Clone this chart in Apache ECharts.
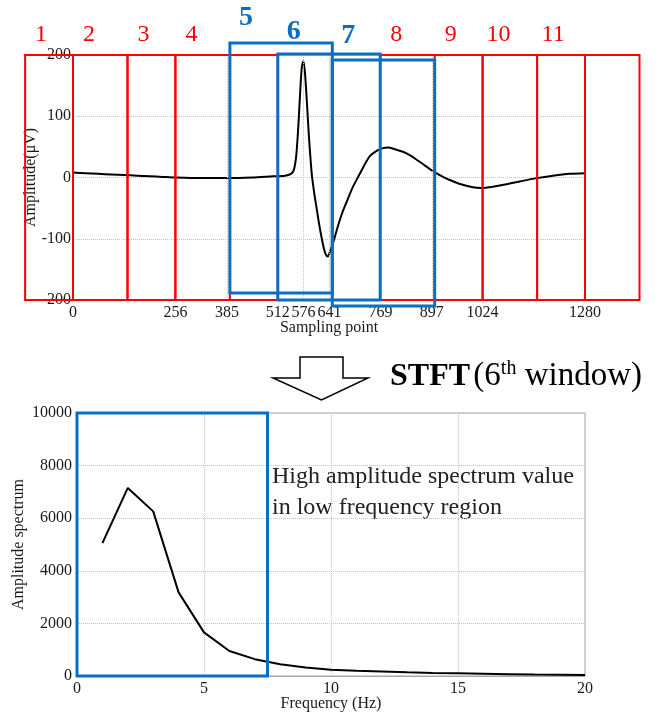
<!DOCTYPE html>
<html>
<head>
<meta charset="utf-8">
<script src="https://cdn.jsdelivr.net/npm/echarts@6/dist/echarts.min.js"></script>
<style>
  html, body { margin: 0; padding: 0; background: #fff; }
  #chart { width: 664px; height: 715px; }
</style>
</head>
<body>
<div id="chart"></div>
<script>
// ---- Data ----
const sampleX = [0, 32, 64, 96, 128, 160, 192, 224, 256, 320, 385, 448, 500, 530, 545, 552, 558, 563, 568, 572, 576, 580, 585, 590, 597, 603, 609, 615, 622, 628, 633, 637, 642, 651, 662, 673, 684, 700, 717, 730, 742, 760, 775, 788, 805, 825, 843, 870, 901, 925, 942, 970, 1000, 1020, 1050, 1084, 1120, 1159, 1200, 1242, 1280];
const amplitude = [8, 7, 6, 5, 4, 3, 2, 1, 0, -1, -1, 0, 2, 3, 6, 12, 35, 80, 140, 180, 190, 170, 120, 65, 5, -25, -50, -75, -100, -118, -127, -129, -122, -105, -80, -58, -40, -15, 6, 22, 35, 44, 48, 49, 46, 42, 36, 24, 10, 1, -4, -11, -16, -17, -15, -11, -6, -1, 3, 6, 7];
const sampleTicks = [0, 256, 385, 512, 576, 641, 769, 897, 1024, 1280];
const windowStarts = [-128, 0, 128, 256, 384, 512, 640, 768, 896, 1024, 1152];
const windowLength = 256;
const windowLabels = ['1', '2', '3', '4', '5', '6', '7', '8', '9', '10', '11'];
const highlightedWindows = ['5', '6', '7'];

const freqHz = [1, 2, 3, 4, 5, 6, 7, 8, 9, 10, 11, 12, 13, 14, 15, 16, 17, 18, 19, 20];
const spectrum = [5050, 7150, 6260, 3180, 1660, 950, 640, 450, 320, 240, 200, 170, 140, 115, 100, 85, 70, 55, 45, 35];
const lowFreqBand = [0, 7.5];

// ---- Styles ----
const SERIF = 'Liberation Serif, Times New Roman, serif';
const RED = '#ff0000';
const BLUE = '#0a6fc2';
const GRID_C = '#c4c4c4';
const TXT = '#1a1a1a';

const signal = sampleX.map((x, i) => [x, amplitude[i]]);
const spec = freqHz.map((f, i) => [f, spectrum[i]]);
const windows = windowStarts.map((s, i) => [s, s + windowLength, i]);
const plain = v => String(v);

function renderWindow(params, api) {
  const idx = api.value(2);
  const label = windowLabels[idx];
  const k = idx + 1;
  const blue = highlightedWindows.indexOf(label) >= 0;
  const p1 = api.coord([api.value(0), 200]);
  const p2 = api.coord([api.value(1), -200]);
  const dx = (k % 2 === 1) ? 3.3 : 0;
  let dyTop = 0, dyBot = 0, labelOff = -20;
  if (k === 5) { dyTop = -12; dyBot = -7; labelOff = -25; }
  else if (k === 6) { dyTop = -1; dyBot = 0; labelOff = -22; }
  else if (k === 7) { dyTop = 5; dyBot = 6; labelOff = -24; }
  const x = p1[0] + dx;
  const y = p1[1] + dyTop;
  const w = p2[0] - p1[0];
  const h = (p2[1] + dyBot) - y;
  return {
    type: 'group',
    children: [
      { type: 'rect', z2: blue ? 10 : 1,
        shape: { x: x, y: y, width: w, height: h },
        style: { fill: 'none', stroke: blue ? BLUE : RED, lineWidth: blue ? 3 : 2 } },
      { type: 'text', z2: 12,
        style: { text: label, x: x + 16, y: y + labelOff, align: 'center', verticalAlign: 'middle',
          fontFamily: SERIF, fontSize: blue ? 28 : 24, fontWeight: blue ? 'bold' : 'normal',
          fill: blue ? BLUE : RED } }
    ]
  };
}

function renderBand(params, api) {
  const p1 = api.coord([api.value(0), 10000]);
  const p2 = api.coord([api.value(1), 0]);
  return { type: 'rect', shape: { x: p1[0], y: p1[1], width: p2[0] - p1[0], height: p2[1] - p1[1] },
    style: { fill: 'none', stroke: BLUE, lineWidth: 3 } };
}

const chart = echarts.init(document.getElementById('chart'), null, { renderer: 'canvas' });
const axisLabelStyle = { fontFamily: SERIF, fontSize: 16, color: TXT, formatter: plain };
const nameStyle = { fontFamily: SERIF, fontSize: 16, color: TXT };

chart.setOption({
  animation: false,
  backgroundColor: '#fff',
  textStyle: { fontFamily: SERIF },
  grid: [
    { left: 73, top: 55, width: 512, height: 245, show: true, borderColor: '#9a9a9a', borderWidth: 1,
      backgroundColor: 'transparent', containLabel: false, outerBoundsMode: 'none' },
    { left: 77, top: 413, width: 508, height: 263, show: true, borderColor: '#a6a6a6', borderWidth: 1,
      backgroundColor: 'transparent', containLabel: false, outerBoundsMode: 'none' }
  ],
  xAxis: [
    { gridIndex: 0, type: 'value', min: 0, max: 1280,
      name: 'Sampling point', nameLocation: 'middle', nameGap: 20, nameMoveOverlap: false,
      nameTextStyle: nameStyle,
      axisLine: { show: false }, axisTick: { show: false },
      axisLabel: Object.assign({ customValues: sampleTicks, margin: 5, hideOverlap: false }, axisLabelStyle),
      splitLine: { show: false } },
    { gridIndex: 1, type: 'value', min: 0, max: 20, interval: 5,
      name: 'Frequency (Hz)', nameLocation: 'middle', nameGap: 20, nameMoveOverlap: false,
      nameTextStyle: nameStyle,
      axisLine: { show: true, lineStyle: { color: '#a6a6a6', width: 1 } }, axisTick: { show: false },
      axisLabel: Object.assign({ margin: 5 }, axisLabelStyle),
      splitLine: { show: true, lineStyle: { color: GRID_C, type: 'dotted', width: 1 } } }
  ],
  yAxis: [
    { gridIndex: 0, type: 'value', min: -200, max: 200, interval: 100,
      name: 'Amplitude(μV)', nameLocation: 'middle', nameGap: 34, nameMoveOverlap: false,
      nameTextStyle: nameStyle,
      axisLine: { show: false }, axisTick: { show: false },
      axisLabel: Object.assign({ margin: 2 }, axisLabelStyle),
      splitLine: { show: true, lineStyle: { color: GRID_C, type: 'dotted', width: 1 } } },
    { gridIndex: 1, type: 'value', min: 0, max: 10000, interval: 2000,
      name: 'Amplitude spectrum', nameLocation: 'middle', nameGap: 50, nameMoveOverlap: false,
      nameTextStyle: nameStyle,
      axisLine: { show: false }, axisTick: { show: false },
      axisLabel: Object.assign({ margin: 5 }, axisLabelStyle),
      splitLine: { show: true, lineStyle: { color: GRID_C, type: 'dotted', width: 1 } } }
  ],
  series: [
    { type: 'line', xAxisIndex: 0, yAxisIndex: 0, data: signal, showSymbol: false, smooth: 0.25,
      lineStyle: { color: '#000', width: 2 }, z: 3,
      markLine: { silent: true, symbol: ['none', 'none'], label: { show: false },
        lineStyle: { color: GRID_C, type: 'dotted', width: 1 },
        data: sampleTicks.map(v => ({ xAxis: v })) } },
    { type: 'custom', xAxisIndex: 0, yAxisIndex: 0, data: windows, renderItem: renderWindow, clip: false, z: 5, silent: true },
    { type: 'line', xAxisIndex: 1, yAxisIndex: 1, data: spec, showSymbol: false,
      lineStyle: { color: '#000', width: 2 }, z: 3 },
    { type: 'custom', xAxisIndex: 1, yAxisIndex: 1, data: [lowFreqBand], renderItem: renderBand, clip: false, z: 5, silent: true }
  ],
  graphic: [
    { type: 'polygon', shape: { points: [[300, 357], [343, 357], [343, 378], [368, 378], [321.5, 400], [273, 378], [300, 378]] },
      style: { fill: '#fff', stroke: '#000', lineWidth: 1.5 } },
    { type: 'text', left: 390, top: 359,
      style: { text: '{b|STFT} {n|(6}{s|th}{n| window)}',
        rich: {
          b: { fontFamily: SERIF, fontSize: 32, fontWeight: 'bold', fill: '#000', lineHeight: 35 },
          n: { fontFamily: SERIF, fontSize: 33, fill: '#000', lineHeight: 35 },
          s: { fontFamily: SERIF, fontSize: 20, fill: '#000', lineHeight: 20, verticalAlign: 'top' }
        } } },
    { type: 'text', left: 272, top: 461,
      style: { text: 'High amplitude spectrum value\nin low frequency region',
        fontFamily: SERIF, fontSize: 24, lineHeight: 31, fill: '#222' } }
  ]
});
</script>
</body>
</html>
